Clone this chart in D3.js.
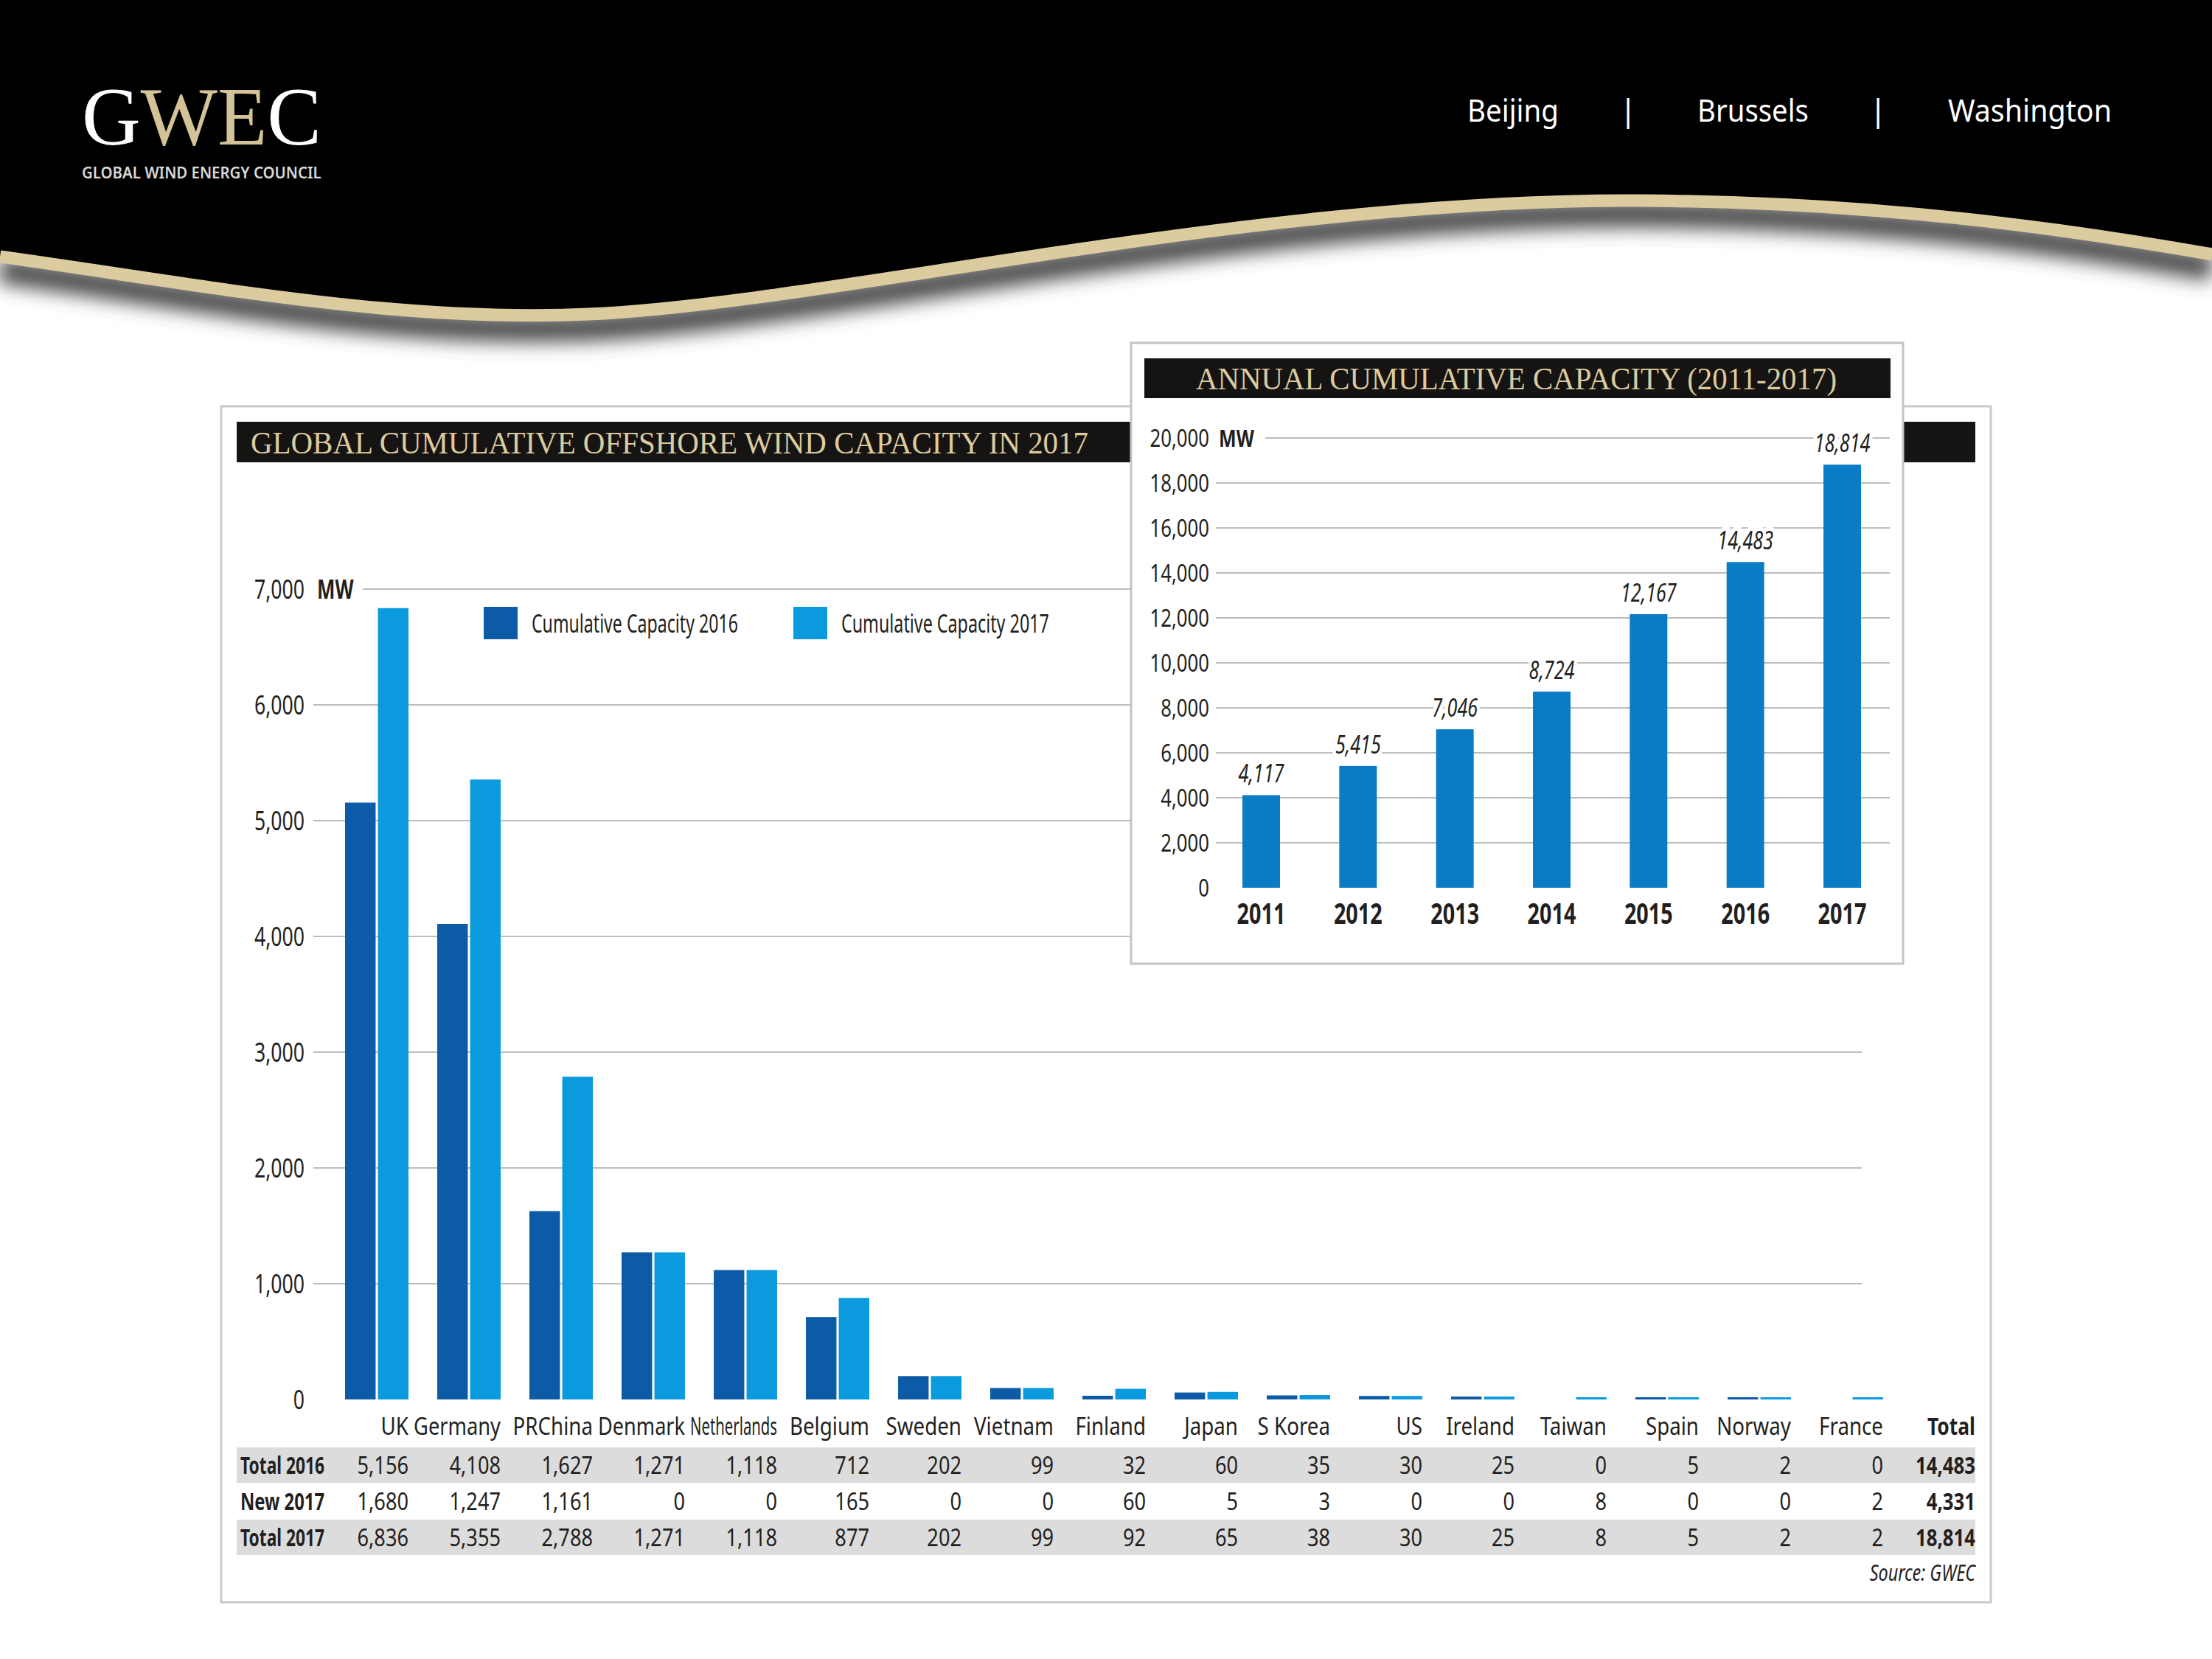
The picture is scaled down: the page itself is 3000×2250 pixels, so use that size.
<!DOCTYPE html>
<html>
<head>
<meta charset="utf-8">
<script src="https://cdn.jsdelivr.net/npm/d3@7"></script>
<style>
  body { margin: 0; background: #fff; }
  svg { display: block; }
</style>
</head>
<body>
<div id="chart"></div>
<script>
// ---- data ----
const countries = ['UK', 'Germany', 'PRChina', 'Denmark', 'Netherlands', 'Belgium', 'Sweden', 'Vietnam',
  'Finland', 'Japan', 'S Korea', 'US', 'Ireland', 'Taiwan', 'Spain', 'Norway', 'France'];
const total2016 = [5156, 4108, 1627, 1271, 1118, 712, 202, 99, 32, 60, 35, 30, 25, 0, 5, 2, 0];
const new2017 = [1680, 1247, 1161, 0, 0, 165, 0, 0, 60, 5, 3, 0, 0, 8, 0, 0, 2];
const total2017 = [6836, 5355, 2788, 1271, 1118, 877, 202, 99, 92, 65, 38, 30, 25, 8, 5, 2, 2];
const rowLabels = ['Total 2016', 'New 2017', 'Total 2017'];
const rowTotals = [14483, 4331, 18814];
const seriesNames = ['Cumulative Capacity 2016', 'Cumulative Capacity 2017'];
const mainTicks = [0, 1000, 2000, 3000, 4000, 5000, 6000, 7000];

const years = ['2011', '2012', '2013', '2014', '2015', '2016', '2017'];
const annual = [4117, 5415, 7046, 8724, 12167, 14483, 18814];
const annualTicks = [0, 2000, 4000, 6000, 8000, 10000, 12000, 14000, 16000, 18000, 20000];

const cities = ['Beijing', 'Brussels', 'Washington'];

const W = 3000, H = 2250;
const sans = "'Noto Sans', 'Open Sans', sans-serif";
const serif = "'Liberation Serif', 'DejaVu Serif', serif";
const ink = '#231f20';
const tan = '#dccb9f';
const c2016 = '#0d5ba6', c2017 = '#0c9ade', cAnnual = '#0a7cc6';
const fmt = d3.format(',');

const svg = d3.select('#chart').append('svg')
    .attr('width', W)
    .attr('height', H);

svg.append('rect').attr('width', W).attr('height', H).attr('fill', '#fff');

// condensed text helper: scale glyphs horizontally around the anchor
function label(g, str, x, y, o) {
    const t = g.append('text')
        .attr('transform', `translate(${x},${y})`)
        .attr('font-family', o.family || sans)
        .attr('font-size', o.size)
        .attr('font-weight', o.weight || 'normal')
        .attr('font-style', o.style || 'normal')
        .attr('text-anchor', o.anchor || 'start')
        .attr('dy', o.dy || 0)
        .attr('fill', o.fill || ink)
        .text(str);
    const w = t.node().getComputedTextLength();
    let s = o.sx || 1;
    if (o.width) s = o.width / w;
    else if (o.max) s = Math.min(s, o.max / w);
    t.attr('transform', `translate(${x},${y}) scale(${s},1)`);
    return t;
}

// ---- header ----
const defs = svg.append('defs');
defs.append('filter')
    .attr('id', 'blur')
    .attr('x', '-10%').attr('y', '-100%')
    .attr('width', '120%').attr('height', '300%')
    .append('feGaussianBlur')
    .attr('stdDeviation', 13);

// logo colours: white G, gold W E, white C
const logoFill = defs.append('linearGradient')
    .attr('id', 'logoFill')
    .attr('gradientUnits', 'userSpaceOnUse')
    .attr('x1', 111).attr('x2', 436)
    .attr('y1', 0).attr('y2', 0);
[[0, '#fff'], [0.25, '#fff'], [0.25, '#d3c397'], [0.77, '#d3c397'], [0.77, '#fff'], [1, '#fff']]
    .forEach(s => logoFill.append('stop').attr('offset', s[0]).attr('stop-color', s[1]));

const wave = 'M0,348 C300,390 550,440 820,425 C1150,405 1700,270 2220,272 C2550,274 2800,310 3000,345';

svg.append('path')
    .attr('d', wave)
    .attr('transform', 'translate(0,18)')
    .attr('fill', 'none')
    .attr('stroke', '#4a4a4a')
    .attr('stroke-width', 36)
    .attr('filter', 'url(#blur)');

svg.append('path')
    .attr('d', wave + ' L3000,0 L0,0 Z')
    .attr('fill', '#000');

svg.append('path')
    .attr('d', wave)
    .attr('fill', 'none')
    .attr('stroke', tan)
    .attr('stroke-width', 17);

svg.append('text')
    .attr('x', 111)
    .attr('y', 196)
    .attr('font-family', serif)
    .attr('font-size', 112)
    .attr('fill', 'url(#logoFill)')
    .attr('textLength', 325)
    .attr('lengthAdjust', 'spacingAndGlyphs')
    .text('GWEC');

label(svg, 'GLOBAL WIND ENERGY COUNCIL', 111, 242, {size: 21, fill: '#d9d9d9', weight: 600, width: 325});

const cityX = [1990, 2302, 2642];
const cityW = [124, 151, 222];
cities.forEach((c, i) => label(svg, c, cityX[i], 165, {size: 42, fill: '#fff', width: cityW[i]}));
[2208, 2547].forEach(x => label(svg, '|', x, 165, {size: 42, fill: '#fff', anchor: 'middle'}));

// ---- main panel ----
svg.append('rect')
    .attr('x', 300).attr('y', 551)
    .attr('width', 2400).attr('height', 1622)
    .attr('fill', '#fff')
    .attr('stroke', '#c9c9c9')
    .attr('stroke-width', 3);

svg.append('rect')
    .attr('x', 321).attr('y', 572)
    .attr('width', 2358).attr('height', 55)
    .attr('fill', '#161413');

svg.append('text')
    .attr('x', 340).attr('y', 615)
    .attr('font-family', serif)
    .attr('font-size', 42)
    .attr('fill', tan)
    .attr('textLength', 1136)
    .attr('lengthAdjust', 'spacingAndGlyphs')
    .text('GLOBAL CUMULATIVE OFFSHORE WIND CAPACITY IN 2017');

const y = d3.scaleLinear()
    .domain([0, 7000])
    .range([1898, 799]);

const x0 = d3.scaleBand()
    .domain(countries)
    .range([468, 2554])
    .paddingInner(0.312)
    .paddingOuter(0);

const x1 = d3.scaleBand()
    .domain(['2016', '2017'])
    .range([0, x0.bandwidth()])
    .paddingInner(0.07);

const main = svg.append('g');

// gridlines
main.selectAll('.grid')
    .data(mainTicks.filter(d => d > 0))
    .enter()
    .append('line')
    .attr('x1', d => d === 7000 ? 492 : 425)
    .attr('x2', 2525)
    .attr('y1', d => y(d))
    .attr('y2', d => y(d))
    .attr('stroke', '#bdbdbd')
    .attr('stroke-width', 2);

mainTicks.forEach(d => label(main, fmt(d), 413, y(d), {size: 36, anchor: 'end', dy: '0.36em', sx: 0.74}));
label(main, 'MW', 430, y(7000), {size: 36, weight: 'bold', dy: '0.36em', sx: 0.72});

// bars
const rows = countries.map((c, i) => ({c, v: [total2016[i], total2017[i]]}));
const groups = main.selectAll('.grp')
    .data(rows)
    .enter()
    .append('g')
    .attr('transform', d => `translate(${x0(d.c)},0)`);

groups.selectAll('rect')
    .data(d => d.v.map((v, k) => ({k: k ? '2017' : '2016', v})))
    .enter()
    .filter(d => d.v > 0)
    .append('rect')
    .attr('x', d => x1(d.k))
    .attr('width', x1.bandwidth())
    .attr('y', d => Math.min(y(d.v), y(0) - 3))
    .attr('height', d => Math.max(y(0) - y(d.v), 3))
    .attr('fill', d => d.k === '2016' ? c2016 : c2017);

// legend
const legend = main.selectAll('.legend')
    .data(seriesNames)
    .enter()
    .append('g')
    .attr('transform', (d, i) => `translate(${i ? 1076 : 656},823)`);
legend.append('rect')
    .attr('width', 46).attr('height', 44)
    .attr('fill', (d, i) => i ? c2017 : c2016);
legend.each(function(d, i) {
    label(d3.select(this), d, 65, 22, {size: 35, dy: '0.36em', width: i ? 282 : 280});
});

// table
const tbl = svg.append('g');
[1963, 2061].forEach(yy => tbl.append('rect')
    .attr('x', 321).attr('y', yy)
    .attr('width', 2358).attr('height', 48)
    .attr('fill', '#dcdcdc'));

const rowY = [1987, 2036, 2085];
const rowData = [total2016, new2017, total2017];
countries.forEach((c, i) => {
    const xr = x0(c) + x0.bandwidth();
    label(tbl, c, xr, 1934, {size: 33, anchor: 'end', dy: '0.36em', sx: 0.84, max: 118});
    rowData.forEach((arr, r) => label(tbl, fmt(arr[i]), xr, rowY[r], {size: 32, anchor: 'end', dy: '0.36em', sx: 0.85}));
});
rowLabels.forEach((t, r) => label(tbl, t, 440, rowY[r], {size: 33, weight: 'bold', anchor: 'end', dy: '0.36em', width: 114}));
label(tbl, 'Total', 2679, 1934, {size: 33, weight: 'bold', anchor: 'end', dy: '0.36em', sx: 0.8});
rowTotals.forEach((t, r) => label(tbl, fmt(t), 2679, rowY[r], {size: 33, weight: 'bold', anchor: 'end', dy: '0.36em', sx: 0.78}));
label(tbl, 'Source: GWEC', 2679, 2133, {size: 30, style: 'italic', anchor: 'end', dy: '0.36em', sx: 0.78});

// ---- inset: annual cumulative capacity ----
const inset = svg.append('g');
inset.append('rect')
    .attr('x', 1534).attr('y', 465)
    .attr('width', 1047).attr('height', 842)
    .attr('fill', '#fff')
    .attr('stroke', '#c4c4c4')
    .attr('stroke-width', 3);

inset.append('rect')
    .attr('x', 1552).attr('y', 486)
    .attr('width', 1012).attr('height', 54)
    .attr('fill', '#161413');

inset.append('text')
    .attr('x', 1622).attr('y', 528)
    .attr('font-family', serif)
    .attr('font-size', 42)
    .attr('fill', tan)
    .attr('textLength', 869)
    .attr('lengthAdjust', 'spacingAndGlyphs')
    .text('ANNUAL CUMULATIVE CAPACITY (2011-2017)');

const yA = d3.scaleLinear()
    .domain([0, 20000])
    .range([1204, 594]);

const xA = d3.scaleBand()
    .domain(years)
    .range([1685, 2524])
    .paddingInner(0.612)
    .paddingOuter(0);

inset.selectAll('.grid')
    .data(annualTicks.filter(d => d > 0))
    .enter()
    .append('line')
    .attr('x1', d => d === 20000 ? 1716 : 1649)
    .attr('x2', 2563)
    .attr('y1', d => yA(d))
    .attr('y2', d => yA(d))
    .attr('stroke', '#bdbdbd')
    .attr('stroke-width', 2);

annualTicks.forEach(d => label(inset, fmt(d), 1640, yA(d), {size: 33, anchor: 'end', dy: '0.36em', sx: 0.78}));
label(inset, 'MW', 1653, yA(20000), {size: 33, weight: 'bold', dy: '0.36em', sx: 0.76});

const ann = years.map((yr, i) => ({yr, v: annual[i]}));
inset.selectAll('.bar')
    .data(ann)
    .enter()
    .append('rect')
    .attr('x', d => xA(d.yr))
    .attr('width', xA.bandwidth())
    .attr('y', d => yA(d.v))
    .attr('height', d => yA(0) - yA(d.v))
    .attr('fill', cAnnual);

ann.forEach(d => {
    const cx = xA(d.yr) + xA.bandwidth() / 2;
    label(inset, fmt(d.v), cx, yA(d.v) - 17, {size: 34, style: 'italic', anchor: 'middle', sx: 0.74})
        .attr('stroke', '#fff')
        .attr('stroke-width', 12)
        .attr('paint-order', 'stroke');
    label(inset, d.yr, cx, 1253, {size: 40, weight: 'bold', anchor: 'middle', sx: 0.72});
});
</script>
</body>
</html>
